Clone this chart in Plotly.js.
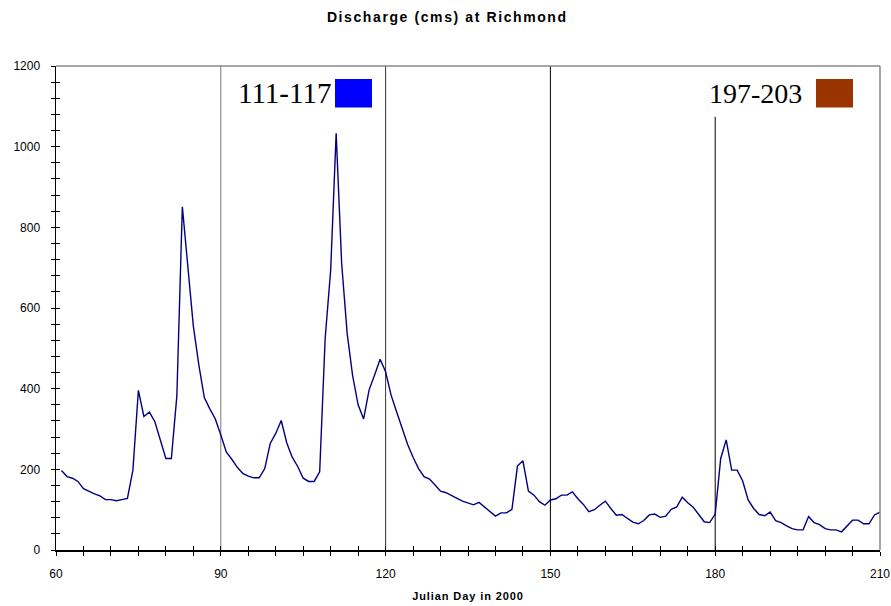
<!DOCTYPE html>
<html>
<head>
<meta charset="utf-8">
<script src="https://cdn.plot.ly/plotly-3.0.1.min.js"></script>
<style>
html,body{margin:0;padding:0;background:#fff;}
#chart{width:891px;height:606px;}
#chart .gtitle{letter-spacing:1.6px;}
#chart .g-xtitle text{letter-spacing:0.9px;}
</style>
</head>
<body>
<div id="chart"></div>
<script>
// Julian day 61 .. 210 (year 2000)
const startDay = 61;
const discharge = [
  197,182,178,170,152,145,139,134,125,125,
  122,125,128,198,396,331,342,318,273,227,
  227,382,851,700,555,459,378,350,325,285,
  243,225,205,190,183,179,179,202,264,289,
  321,266,230,207,178,170,170,194,525,694,
  1033,711,537,432,360,325,397,434,473,442,
  384,343,302,262,230,202,182,176,161,146,
  142,136,128,121,116,112,118,107,95,84,
  92,92,101,208,221,146,136,120,111,124,
  127,136,136,144,127,113,95,100,111,121,
  103,86,88,79,69,65,73,87,89,81,
  84,101,107,131,117,106,89,70,68,89,
  227,273,198,198,171,124,103,88,85,94,
  73,68,60,53,50,50,83,68,63,53,
  50,50,45,60,74,74,65,65,87,94
];
const days = discharge.map((_, i) => startDay + i);

const xTickVals = [60, 90, 120, 150, 180, 210];
const yTickVals = [0, 200, 400, 600, 800, 1000, 1200];
const markerDays = [90, 120, 150, 180];
const markerColors = ['#777777', '#333333', '#000000', '#000000'];
const markerTops = [1200, 1200, 1200, 1074];
const periods = [
  {label: '111-117', color: '#0000ff'},
  {label: '197-203', color: '#993300'}
];

const font = 'Liberation Sans, Arial, sans-serif';

const traces = [{
  x: days, y: discharge, type: 'scatter', mode: 'lines',
  line: {color: '#000080', width: 1.4}, hoverinfo: 'skip', showlegend: false
}, {
  x: [60, 210], y: [0, 0], xaxis: 'x2', yaxis: 'y2', type: 'scatter', mode: 'lines',
  line: {width: 0}, hoverinfo: 'skip', showlegend: false
}];

const shapes = [];
markerDays.forEach((d, i) => {
  shapes.push({type: 'line', xref: 'x', yref: 'y', x0: d, x1: d, y0: 0, y1: markerTops[i],
    line: {color: markerColors[i], width: 1}, layer: 'below'});
});
// top and right frame
shapes.push({type: 'line', xref: 'paper', yref: 'paper', x0: 0, x1: 1, y0: 1, y1: 1, line: {color: '#888', width: 1.5}});
shapes.push({type: 'line', xref: 'paper', yref: 'paper', x0: 1, x1: 1, y0: 0, y1: 1, line: {color: '#888', width: 1.5}});

const boxPos = [[0.3386, 0.3835], [0.9223, 0.9672]];
const textPos = [0.3362, 0.9078];
const textSizes = [29, 28];
const annotations = [];
periods.forEach((p, i) => {
  shapes.push({type: 'rect', xref: 'paper', yref: 'paper', x0: boxPos[i][0], x1: boxPos[i][1],
    y0: 0.9143, y1: 0.9731, fillcolor: p.color, line: {width: 0}});
  annotations.push({xref: 'paper', yref: 'paper', x: textPos[i], y: 0.944, xanchor: 'right', yanchor: 'middle',
    text: p.label, showarrow: false, font: {family: 'Liberation Serif, Times New Roman, serif', size: textSizes[i], color: '#000'}});
});

const layout = {
  width: 891, height: 606,
  margin: {l: 56, r: 11, t: 66, b: 56},
  paper_bgcolor: '#fff', plot_bgcolor: '#fff',
  title: {text: '<b>Discharge (cms) at Richmond</b>', x: 0.502, xanchor: 'center', y: 0.972, yanchor: 'middle',
    xref: 'container', yref: 'container', font: {family: font, size: 14, color: '#000'}},
  xaxis: {
    range: [60, 210], tickvals: xTickVals, ticktext: xTickVals.map(String),
    showgrid: false, zeroline: false, showline: true, linecolor: '#000', linewidth: 1.5,
    ticks: 'outside', ticklen: 4, tickcolor: '#000', tickwidth: 1,
    minor: {dtick: 5, tick0: 60, ticks: 'outside', ticklen: 4, tickcolor: '#000', showgrid: false},
    ticklabelstandoff: 8,
    tickfont: {family: font, size: 12, color: '#000'},
    title: {text: '<b>Julian Day in 2000</b>', standoff: 12, font: {family: font, size: 11, color: '#000'}},
    automargin: false, fixedrange: true
  },
  yaxis: {
    range: [0, 1200], tickvals: yTickVals, ticktext: yTickVals.map(String),
    showgrid: false, zeroline: false, showline: true, linecolor: '#000', linewidth: 1.5,
    ticks: 'outside', ticklen: 4, tickcolor: '#000', tickwidth: 1,
    minor: {dtick: 40, tick0: 0, ticks: 'outside', ticklen: 4, tickcolor: '#000', showgrid: false},
    ticklabelstandoff: 8,
    tickfont: {family: font, size: 12, color: '#000'},
    automargin: false, fixedrange: true
  },
  xaxis2: {overlaying: 'x', matches: 'x', range: [60, 210], side: 'bottom', anchor: 'y2',
    showgrid: false, zeroline: false, showline: false, showticklabels: false,
    tickmode: 'linear', tick0: 60, dtick: 5, ticks: 'inside', ticklen: 4, tickcolor: '#000'},
  yaxis2: {overlaying: 'y', range: [0, 1200], side: 'left', anchor: 'x2',
    showgrid: false, zeroline: false, showline: false, showticklabels: false,
    tickmode: 'linear', tick0: 0, dtick: 40, ticks: 'inside', ticklen: 4, tickcolor: '#000'},
  shapes: shapes,
  annotations: annotations,
  showlegend: false
};

Plotly.newPlot('chart', traces, layout, {displayModeBar: false, staticPlot: true});
</script>
</body>
</html>
